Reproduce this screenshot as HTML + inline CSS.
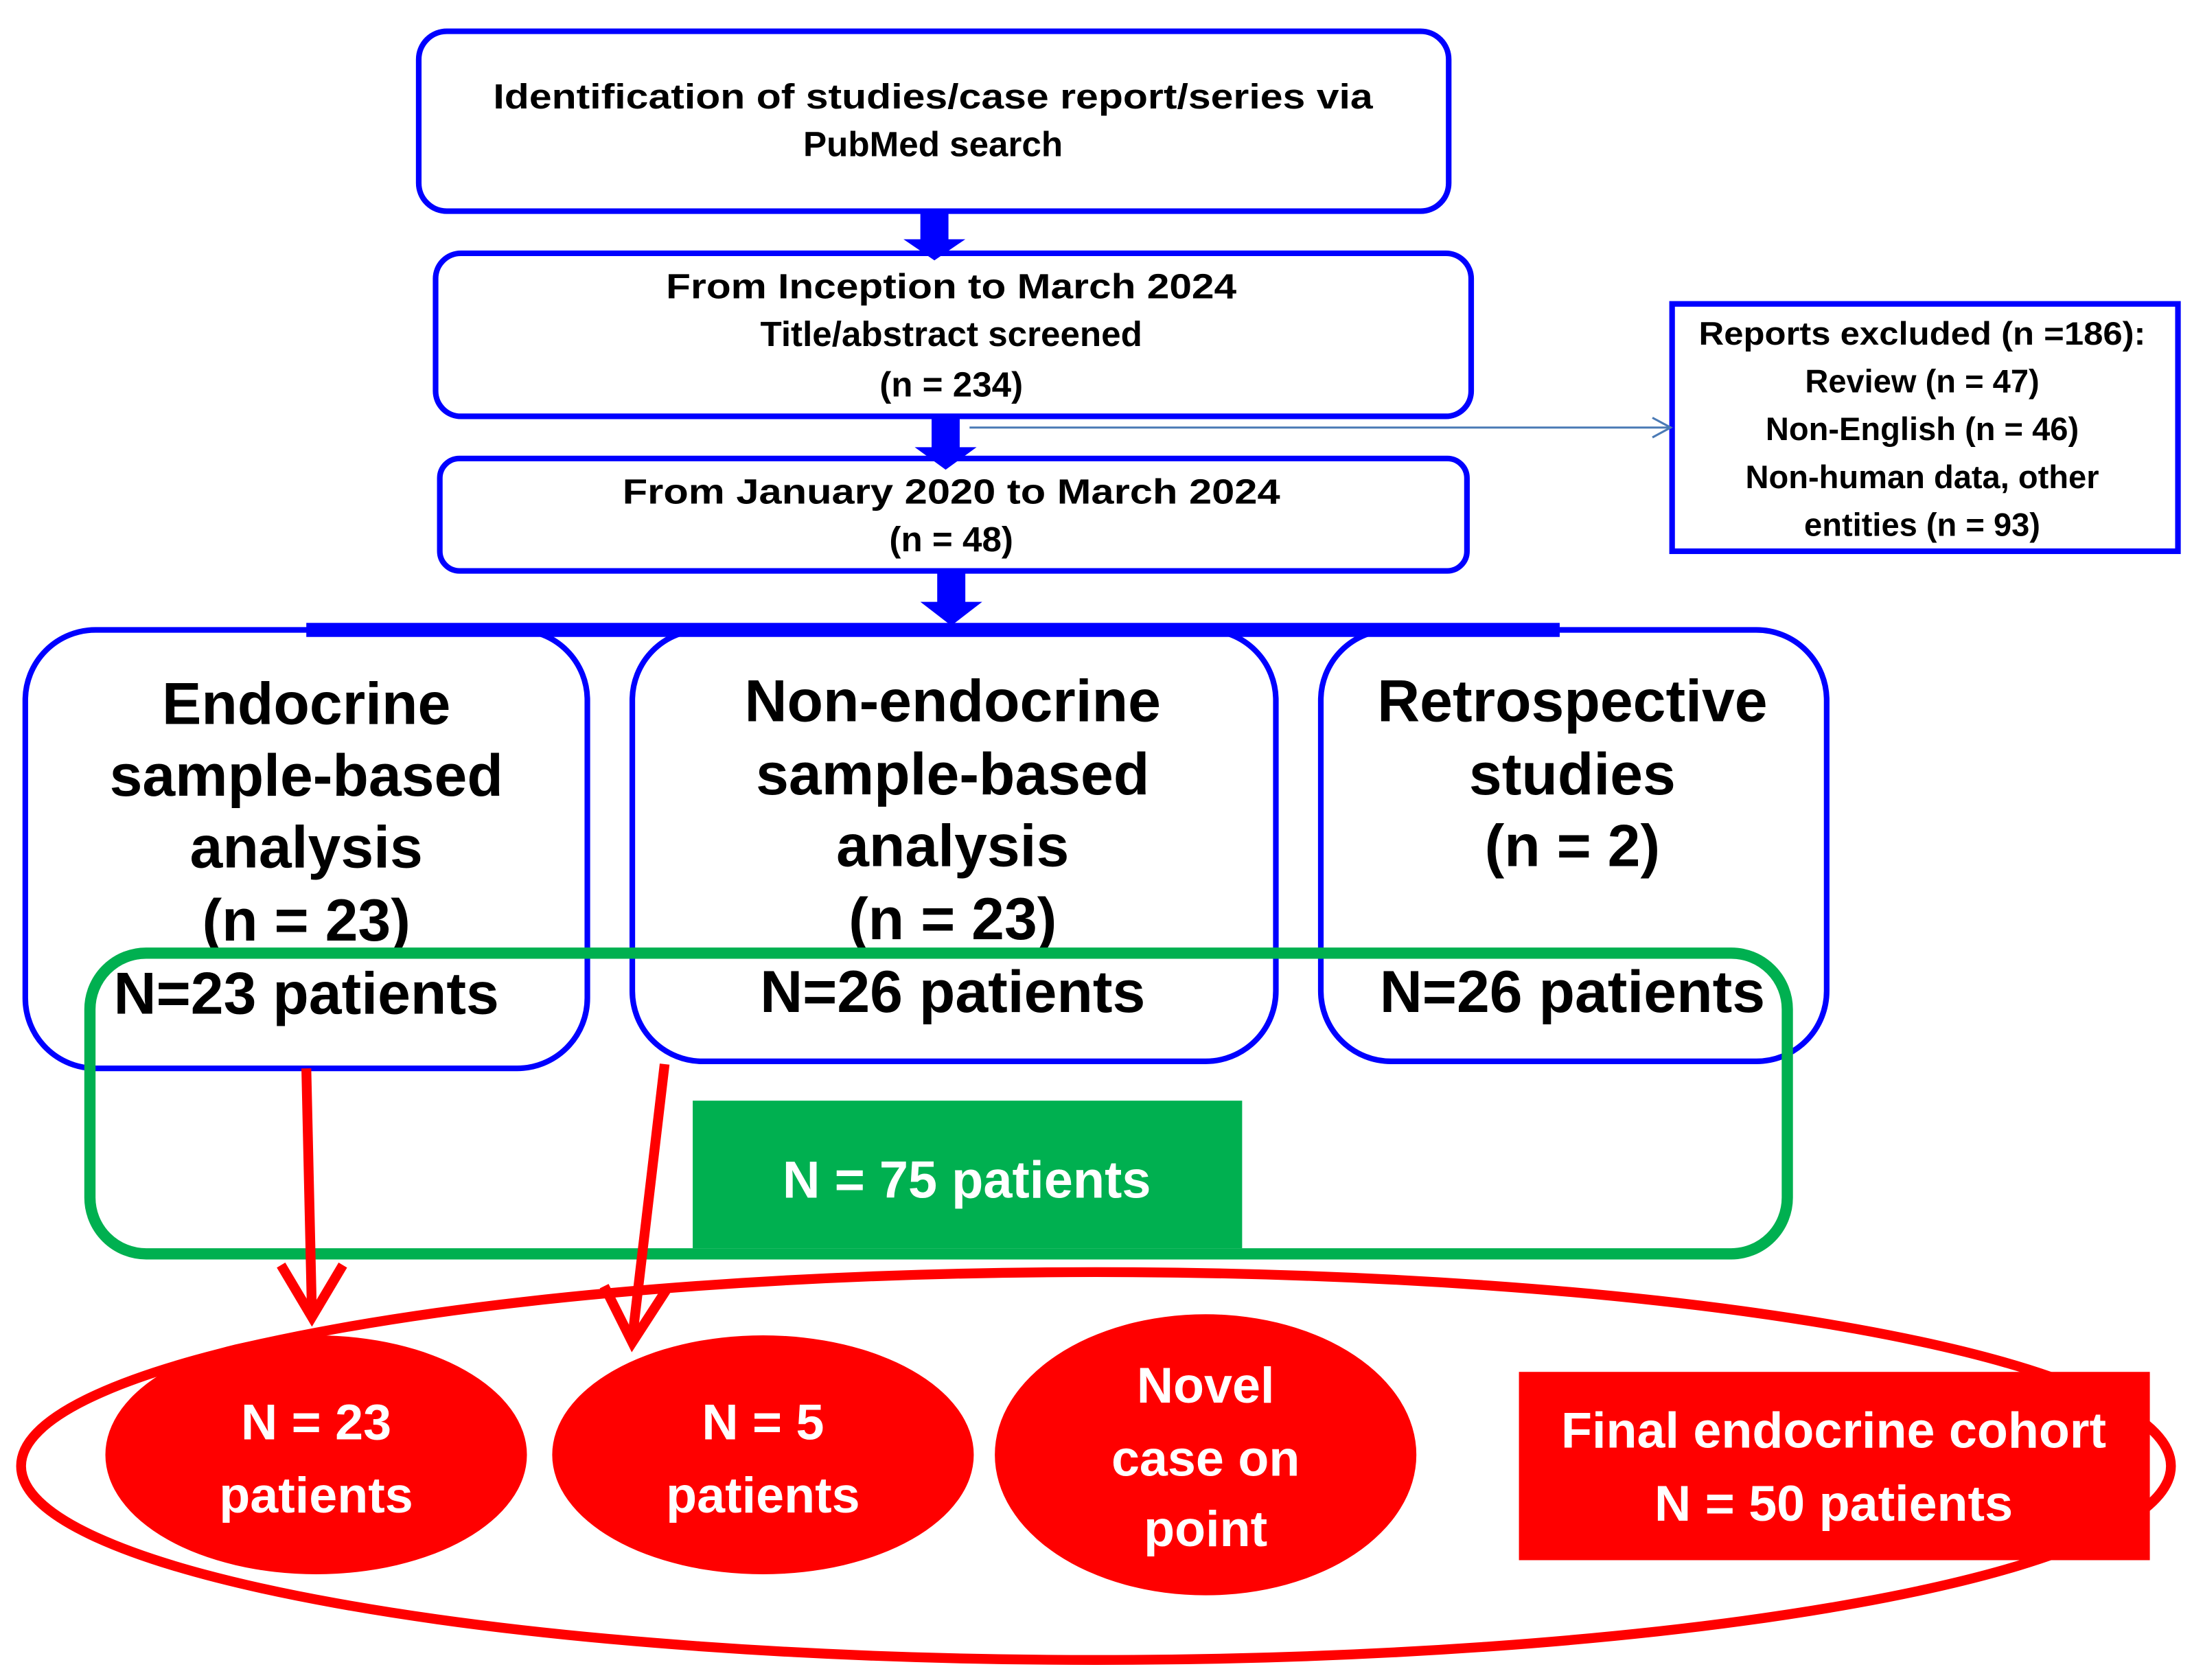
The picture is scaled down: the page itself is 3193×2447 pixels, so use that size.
<!DOCTYPE html>
<html><head><meta charset="utf-8"><style>html,body{margin:0;padding:0;background:#fff}svg{display:block}</style></head>
<body>
<svg width="3193" height="2447" viewBox="0 0 1560 1195" xmlns="http://www.w3.org/2000/svg" font-family="Liberation Sans, Arial, sans-serif" font-weight="bold" text-anchor="middle">
<g fill="none" stroke="#0000ff" stroke-width="4">
<rect x="298" y="22" width="733" height="128" rx="20"/>
<rect x="310" y="180" width="737" height="116" rx="18"/>
<rect x="313" y="326" width="731" height="80" rx="14"/>
<rect x="1190" y="216" width="360" height="176"/>
<rect x="18" y="448" width="400" height="312" rx="50"/>
<rect x="450" y="448" width="458" height="307" rx="50"/>
<rect x="940" y="448" width="360" height="307" rx="50"/>
</g>
<g fill="#0000ff">
<rect x="655" y="150" width="20" height="20"/><polygon points="643,170 687,170 665,185"/>
<rect x="663" y="296" width="20" height="24"/><polygon points="651,318 695,318 673,334"/>
<rect x="667" y="406" width="20" height="24"/><polygon points="655,428 699,428 677,445"/>
<rect x="218" y="443" width="892" height="10"/>
</g>
<line x1="690" y1="304" x2="1188" y2="304" stroke="#4a7ab5" stroke-width="1.5"/>
<polyline points="1176,297 1189,304 1176,311" fill="none" stroke="#4a7ab5" stroke-width="1.5"/>
<g font-size="25" fill="#000">
<text x="664" y="77" textLength="626" lengthAdjust="spacingAndGlyphs">Identification of studies/case report/series via</text>
<text x="664" y="111">PubMed search</text>
<text x="677" y="212" textLength="406" lengthAdjust="spacingAndGlyphs">From Inception to March 2024</text>
<text x="677" y="246">Title/abstract screened</text>
<text x="677" y="282">(n = 234)</text>
<text x="677" y="358" textLength="468" lengthAdjust="spacingAndGlyphs">From January 2020  to March 2024</text>
<text x="677" y="392">(n = 48)</text>
</g>
<g font-size="23" fill="#000">
<text x="1368" y="245" textLength="318" lengthAdjust="spacingAndGlyphs">Reports excluded (n =186):</text>
<text x="1368" y="279">Review (n = 47)</text>
<text x="1368" y="313">Non-English (n = 46)</text>
<text x="1368" y="347">Non-human data, other</text>
<text x="1368" y="381">entities (n = 93)</text>
</g>
<g font-size="42" fill="#000">
<text x="218" y="515">Endocrine</text>
<text x="218" y="566">sample-based</text>
<text x="218" y="617">analysis</text>
<text x="218" y="669">(n = 23)</text>
<text x="218" y="721">N=23 patients</text>
<text x="678" y="513">Non-endocrine</text>
<text x="678" y="565">sample-based</text>
<text x="678" y="616">analysis</text>
<text x="678" y="668">(n = 23)</text>
<text x="678" y="720">N=26 patients</text>
<text x="1119" y="513">Retrospective</text>
<text x="1119" y="565">studies</text>
<text x="1119" y="616">(n = 2)</text>
<text x="1119" y="720">N=26 patients</text>
</g>
<rect x="64" y="678" width="1208" height="214" rx="40" fill="none" stroke="#00b050" stroke-width="8"/>
<rect x="493" y="783" width="391" height="105" fill="#00b050"/>
<text x="688" y="852" font-size="37" fill="#fff">N = 75 patients</text>
<ellipse cx="780" cy="1043" rx="765" ry="138" fill="none" stroke="#ff0000" stroke-width="7"/>
<g fill="#ff0000">
<ellipse cx="225" cy="1035" rx="150" ry="85"/>
<ellipse cx="543" cy="1035" rx="150" ry="85"/>
<ellipse cx="858" cy="1035" rx="150" ry="100"/>
<rect x="1081" y="976" width="449" height="134"/>
</g>
<g stroke="#ff0000" stroke-width="7" fill="none">
<line x1="218" y1="760" x2="222" y2="935"/>
<polyline points="200,900 222,937 244,900"/>
<line x1="473" y1="757" x2="450" y2="952"/>
<polyline points="430,915 450,955 474,918"/>
</g>
<g font-size="36" fill="#fff">
<text x="225" y="1024">N = 23</text>
<text x="225" y="1076">patients</text>
<text x="543" y="1024">N = 5</text>
<text x="543" y="1076">patients</text>
<text x="858" y="998">Novel</text>
<text x="858" y="1050">case on</text>
<text x="858" y="1100">point</text>
<text x="1305" y="1030">Final endocrine cohort</text>
<text x="1305" y="1082">N = 50 patients</text>
</g>
</svg>
</body></html>
